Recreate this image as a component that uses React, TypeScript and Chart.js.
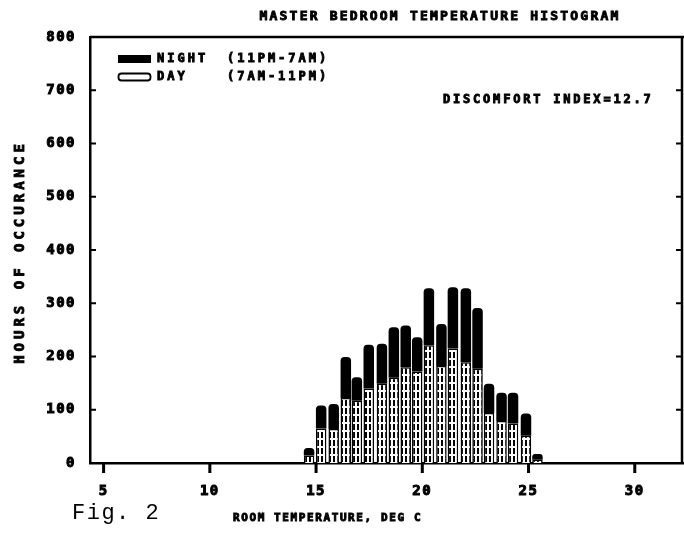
import { useEffect, useRef } from "react";
import { Chart, registerables } from "chart.js";

Chart.register(...registerables);

// Histogram bin centres (deg C) and hours per bin
const binCentersC = [14.67, 15.24, 15.83, 16.4, 16.92, 17.48, 18.1, 18.66, 19.22, 19.76, 20.31, 20.9, 21.44, 22.05, 22.6, 23.14, 23.73, 24.27, 24.88, 25.42];
const dayHours = [14, 65, 64, 122, 117, 140, 149, 160, 180, 172, 221, 182, 215, 189, 177, 94, 79, 74, 51, 6];
const nightHours = [14, 43, 47, 77, 44, 82, 75, 95, 78, 64, 107, 79, 115, 139, 114, 55, 53, 58, 42, 11];

const xTickValues = [5, 10, 15, 20, 25, 30];
const yTickValues = [0, 100, 200, 300, 400, 500, 600, 700, 800];

const titleText = "MASTER BEDROOM TEMPERATURE HISTOGRAM";
const legendNight = ["NIGHT", "(11PM-7AM)"];
const legendDay = ["DAY", "(7AM-11PM)"];
const discomfortText = "DISCOMFORT INDEX=12.7";
const yAxisTitle = "HOURS OF OCCURANCE";
const xAxisTitle = "ROOM TEMPERATURE, DEG C";
const figureLabel = "Fig. 2";

const MONO = "'DejaVu Sans Mono', monospace";

function makeDayPattern(): CanvasPattern | string {
  const c = document.createElement("canvas");
  c.width = 4;
  c.height = 8;
  const g = c.getContext("2d");
  if (!g) return "#fff";
  g.fillStyle = "#fff";
  g.fillRect(0, 0, 4, 8);
  g.fillStyle = "#000";
  g.fillRect(1, 0, 2, 6);
  return g.createPattern(c, "repeat") ?? "#fff";
}

const decorPlugin = {
  id: "decor",
  beforeDraw(chart: any) {
    chart.ctx.letterSpacing = "1.5px";
  },
  afterDraw(chart: any) {
    const ctx: CanvasRenderingContext2D = chart.ctx;
    const area = chart.chartArea;
    const yScale = chart.scales.y;
    ctx.save();
    ctx.strokeStyle = "#000";
    ctx.fillStyle = "#000";
    // frame: top and right
    ctx.lineWidth = 2.5;
    ctx.beginPath();
    ctx.moveTo(area.left, area.top);
    ctx.lineTo(chart.width, area.top);
    ctx.moveTo(area.right - 1, area.top);
    ctx.lineTo(area.right - 1, area.bottom);
    ctx.stroke();
    // inward ticks on left and right axes
    ctx.lineWidth = 2;
    ctx.beginPath();
    for (const v of yTickValues) {
      const y = yScale.getPixelForValue(v);
      ctx.moveTo(area.left, y);
      ctx.lineTo(area.left + 6, y);
      ctx.moveTo(area.right - 1, y);
      ctx.lineTo(area.right - 7, y);
    }
    ctx.stroke();

    const text = (s: string, x: number, y: number, size: number, spacing: number, align: CanvasTextAlign = "left", weight = "bold", family = MONO, stroke = 0.9) => {
      ctx.font = `${weight} ${size}px ${family}`;
      (ctx as any).letterSpacing = `${spacing}px`;
      ctx.textAlign = align;
      ctx.textBaseline = "middle";
      ctx.fillText(s, x, y);
      if (stroke > 0) {
        ctx.lineWidth = stroke;
        ctx.strokeText(s, x, y);
      }
    };

    // title
    text(titleText, 440, 17, 13, 2.2, "center");

    // legend
    ctx.fillRect(118, 55, 33, 8);
    ctx.lineWidth = 1.8;
    ctx.beginPath();
    (ctx as any).roundRect ? (ctx as any).roundRect(118.5, 73.5, 32, 7, 3) : ctx.rect(118.5, 73.5, 32, 7);
    ctx.stroke();
    text(legendNight[0], 157, 59, 12, 3);
    text(legendNight[1], 227, 59, 12, 3);
    text(legendDay[0], 157, 77, 12, 3);
    text(legendDay[1], 227, 77, 12, 3);

    // discomfort index
    text(discomfortText, 443, 100, 12, 2.8);

    // y-axis title (rotated)
    ctx.save();
    ctx.translate(20, 252);
    ctx.rotate(-Math.PI / 2);
    text(yAxisTitle, 0, 0, 14, 4, "center");
    ctx.restore();

    // x-axis title
    text(xAxisTitle, 233, 518, 11, 1.6);

    // figure label
    text(figureLabel, 72, 513, 22, 1.5, "left", "normal", "'Liberation Mono', monospace", 0);

    ctx.restore();
  },
};

// outward tick marks below the x axis (drawn last)
const xTickMarks = {
  id: "xTickMarks",
  afterDraw(chart: any) {
    const ctx = chart.ctx;
    const a = chart.chartArea;
    const xs = chart.scales.x;
    ctx.save();
    ctx.fillStyle = "#000";
    for (const v of xTickValues) {
      const x = xs.getPixelForValue(v);
      ctx.fillRect(x - 1.5, a.bottom, 3, 10);
    }
    ctx.restore();
  },
};

export default function App() {
  const canvasRef = useRef<HTMLCanvasElement | null>(null);

  useEffect(() => {
    document.body.style.margin = "0";
    const canvas = canvasRef.current;
    if (!canvas) return;
    const dayPattern = makeDayPattern();
    const tickFont = { family: MONO, weight: "bold" as const, size: 14 };

    const chart = new Chart(canvas, {
      type: "bar",
      data: {
        datasets: [
          {
            label: "DAY",
            data: binCentersC.map((x, i) => ({ x, y: dayHours[i] })),
            backgroundColor: dayPattern as any,
            borderColor: "#000",
            borderWidth: 1.5,
            barPercentage: 0.95,
            categoryPercentage: 1,
          },
          {
            label: "NIGHT",
            data: binCentersC.map((x, i) => ({ x, y: nightHours[i] })),
            backgroundColor: "#000",
            borderColor: "#000",
            borderWidth: 0,
            borderRadius: 4,
            barPercentage: 0.95,
            categoryPercentage: 1,
          },
        ],
      },
      options: {
        responsive: false,
        animation: false,
        devicePixelRatio: 1,
        layout: { padding: { top: 37, right: 1, left: 0, bottom: 0 } },
        plugins: {
          legend: { display: false },
          tooltip: { enabled: false },
          title: { display: false },
        },
        scales: {
          x: {
            type: "linear",
            min: 4.36,
            max: 32.27,
            stacked: true,
            offset: false,
            afterBuildTicks: (s: any) => {
              s.ticks = xTickValues.map((v) => ({ value: v }));
            },
            afterFit: (s: any) => {
              s.height = 72;
            },
            grid: { display: false, drawTicks: false },
            border: { display: true, color: "#000", width: 2.5 },
            ticks: {
              color: "#000",
              font: tickFont,
              padding: 20,
              maxRotation: 0,
              autoSkip: false,
              textStrokeColor: "#000",
              textStrokeWidth: 1,
              callback: (v: any) => String(v),
            },
          },
          y: {
            min: 0,
            max: 800,
            stacked: true,
            afterBuildTicks: (s: any) => {
              s.ticks = yTickValues.map((v) => ({ value: v }));
            },
            afterFit: (s: any) => {
              s.width = 90;
            },
            grid: { display: false, drawTicks: false },
            border: { display: true, color: "#000", width: 2.5 },
            ticks: {
              color: "#000",
              font: tickFont,
              padding: 14,
              autoSkip: false,
              textStrokeColor: "#000",
              textStrokeWidth: 1,
              callback: (v: any) => String(v),
            },
          },
        },
      },
      plugins: [decorPlugin, xTickMarks],
    });

    return () => {
      chart.destroy();
    };
  }, []);

  return (
    <div style={{ position: "fixed", left: 0, top: 0, width: 684, height: 535, background: "#fff" }}>
      <canvas ref={canvasRef} width={684} height={535} />
    </div>
  );
}
